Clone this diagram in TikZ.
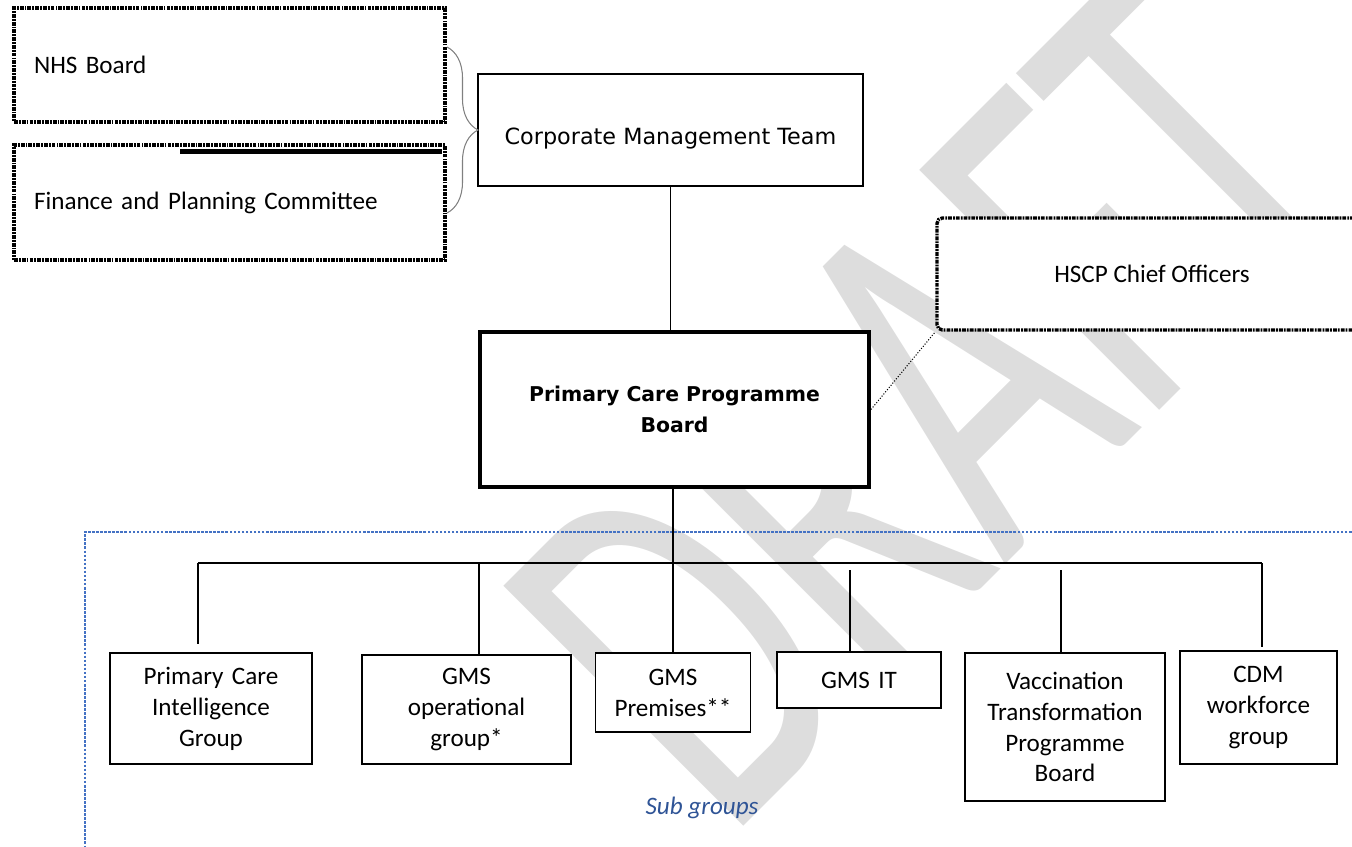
\documentclass[tikz,border=0pt]{standalone}
\usepackage{fontspec}
\setmainfont{Carlito}
\newfontfamily\boardfont{DejaVu Sans}
\usetikzlibrary{positioning,decorations.pathreplacing}
\definecolor{subblue}{RGB}{68,114,196}
\definecolor{subtext}{RGB}{47,84,150}
\definecolor{wmgray}{RGB}{221,221,221}

\begin{document}
\begin{tikzpicture}[
        x=0.02cm, y=-0.02cm,
        subgrp/.style={rectangle, draw, fill=white, line width=0.8pt, inner sep=0pt, align=center, font=\fontsize{14.3}{17.6}\selectfont},
        dotbox/.style={rectangle, draw, fill=white, line width=1.9pt, dash pattern=on 2.2pt off 0.6pt on 1pt off 0.6pt, inner sep=0pt},
        link/.style={draw, line width=0.8pt}
    ]
    \clip (0,0) rectangle (1352,847);

    % watermark
    \node[rotate=45, inner sep=0pt, text=wmgray, font=\fontsize{193}{193}\selectfont] (wm) at (929,401) {\scalebox{1}[1.56]{DRAFT}};

    % sub group area
    \draw[subblue, line width=0.7pt, dash pattern=on 1.5pt off 0.8pt] (1400,532) -- (85,532) -- (85,900);

    % governance
    \node[dotbox, text width=7.82cm, inner xsep=0.4cm, minimum height=2.28cm, align=left, font=\fontsize{14.3}{17.6}\selectfont] (nhs) at (229.5,65) {NHS Board};
    \node[dotbox, text width=7.82cm, inner xsep=0.4cm, minimum height=2.3cm, align=left, font=\fontsize{14.3}{17.6}\selectfont] (fin) at (229.5,202.5) {Finance and Planning Committee};
    \draw[line width=2.8pt] (180,151.5) -- (442,151.5);

    \node[rectangle, draw, fill=white, line width=1.4pt, minimum width=7.7cm, minimum height=2.24cm, text height=0.66cm, font=\boardfont\fontsize{12.7}{16}\selectfont] (cmt) at (670.5,130) {Corporate Management Team};
    \node[rectangle, draw, fill=white, line width=2.3pt, minimum width=7.78cm, minimum height=3.1cm, align=center, font=\boardfont\bfseries\fontsize{11.6}{18}\selectfont] (pcpb) at (674.5,409.5) {Primary Care Programme\\Board};
    \node[dotbox, rounded corners=3pt, minimum width=8.6cm, minimum height=2.24cm, font=\fontsize{14.3}{17.6}\selectfont] (hscp) at (1152,274) {HSCP Chief Officers};

    \coordinate (bracetop) at (447,47);
    \coordinate (bracebot) at (447,213);
    \draw[gray, line width=0.6pt, decorate, decoration={brace, amplitude=0.62cm}] (bracetop) -- (bracebot);

    \draw[link] (cmt) -- (cmt |- pcpb.north);
    \draw[densely dotted, line width=0.6pt] (pcpb.east) -- (hscp.south west);

    % sub groups
    \node[subgrp, text width=4.04cm, minimum height=2.22cm] (pcig) at (211,708.5) {Primary Care\\Intelligence\\Group};
    \node[subgrp, text width=4.18cm, minimum height=2.18cm] (gmsop) at (466.5,709.5) {GMS\\operational\\group*};
    \node[subgrp, text width=3.1cm, minimum height=1.58cm] (prem) at (673,692.5) {GMS\\Premises**};
    \node[subgrp, text width=3.28cm, minimum height=1.12cm] (gmsit) at (859,680) {GMS IT};
    \node[subgrp, text width=4cm, minimum height=2.96cm] (vacc) at (1065,727) {Vaccination\\Transformation\\Programme\\Board};
    \node[subgrp, text width=3.14cm, minimum height=2.26cm] (cdm) at (1258.5,707.5) {CDM\\workforce\\group};

    \node[font=\itshape\fontsize{14.3}{17.6}\selectfont, text=subtext] (sublbl) at (702,808) {Sub groups};

    \coordinate (bus1) at (198,563);
    \coordinate (bus2) at (479,563);
    \coordinate (bus4) at (850,570);
    \coordinate (bus5) at (1061,570);
    \coordinate (bus6) at (1262,563);

    \draw[link] (prem.north |- pcpb.south) -- (prem.north);
    \draw[link] (bus1) -- (bus6);
    \draw[link, shorten >=5pt] (bus1) -- (bus1 |- pcig.north);
    \draw[link] (bus2) -- (bus2 |- gmsop.north);
    \draw[link] (bus4) -- (bus4 |- gmsit.north);
    \draw[link] (bus5) -- (bus5 |- vacc.north);
    \draw[link, shorten >=2pt] (bus6) -- (bus6 |- cdm.north);
\end{tikzpicture}
\end{document}
